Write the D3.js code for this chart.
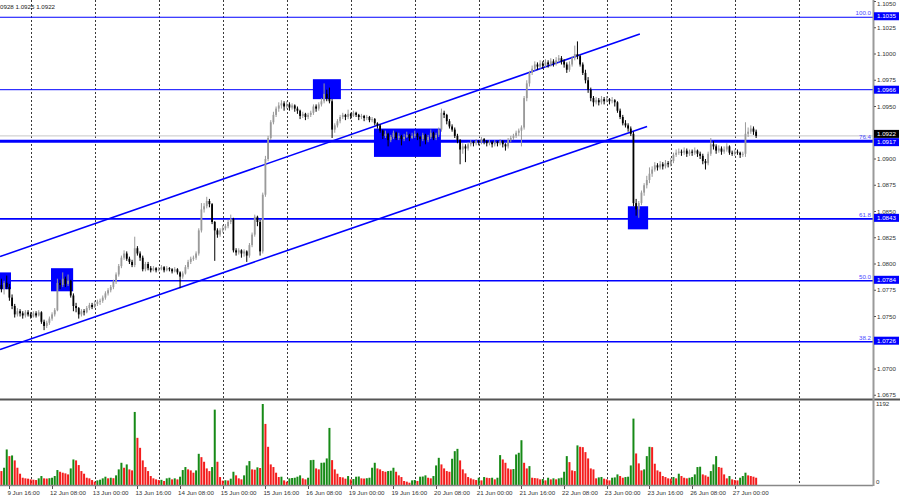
<!DOCTYPE html>
<html><head><meta charset="utf-8">
<script src="https://cdn.jsdelivr.net/npm/d3@7"></script>
<style>body{margin:0;background:#fff}svg{display:block}text{font-family:"Liberation Sans",Arial,sans-serif}</style>
</head><body><svg id="c" width="900" height="500"></svg>
<script>
// ---- data (EURUSD H1, bar index 0 = 9 Jun 16:00) ----
const firstBar = -3;
const opens = [
1.0780,1.0776,1.0782,1.0778,1.0768,1.0760,1.0752,1.0755,1.0753,1.0751,
1.0754,1.0752,1.0750,1.0753,1.0751,1.0754,1.0745,1.0741,1.0744,1.0748,
1.0752,1.0756,1.0782,1.0780,1.0786,1.0781,1.0784,1.0770,1.0760,1.0758,
1.0752,1.0755,1.0754,1.0758,1.0761,1.0759,1.0762,1.0764,1.0765,1.0768,
1.0772,1.0775,1.0778,1.0783,1.0790,1.0798,1.0806,1.0810,1.0805,1.0802,
1.0799,1.0815,1.0810,1.0806,1.0795,1.0800,1.0796,1.0794,1.0796,1.0794,
1.0795,1.0797,1.0794,1.0796,1.0795,1.0793,1.0795,1.0792,1.0788,1.0791,
1.0797,1.0802,1.0805,1.0806,1.0810,1.0832,1.0852,1.0855,1.0860,1.0857,
1.0840,1.0832,1.0828,1.0832,1.0834,1.0836,1.0840,1.0843,1.0813,1.0811,
1.0813,1.0810,1.0812,1.0808,1.0818,1.0828,1.0845,1.0840,1.0812,1.0866,
1.0900,1.0920,1.0935,1.0942,1.0948,1.0951,1.0953,1.0950,1.0952,1.0949,
1.0951,1.0948,1.0946,1.0941,1.0943,1.0940,1.0942,1.0944,1.0950,1.0948,
1.0952,1.0955,1.0962,1.0958,1.0955,1.0928,1.0932,1.0936,1.0940,1.0942,
1.0940,1.0943,1.0941,1.0944,1.0942,1.0940,1.0941,1.0939,1.0940,1.0937,
1.0938,1.0934,1.0932,1.0927,1.0922,1.0924,1.0918,1.0921,1.0925,1.0920,
1.0922,1.0919,1.0921,1.0923,1.0920,1.0922,1.0924,1.0921,1.0919,1.0923,
1.0918,1.0921,1.0925,1.0920,1.0923,1.0928,1.0944,1.0942,1.0936,1.0931,
1.0928,1.0922,1.0918,1.0909,1.0912,1.0910,1.0914,1.0916,1.0915,1.0917,
1.0916,1.0919,1.0917,1.0915,1.0916,1.0914,1.0916,1.0915,1.0917,1.0914,
1.0912,1.0918,1.0920,1.0922,1.0925,1.0927,1.0930,1.0958,1.0972,1.0982,
1.0986,1.0990,1.0988,1.0991,1.0989,1.0992,1.0990,1.0993,1.0991,1.0994,
1.0996,1.0993,1.0990,1.0985,1.0990,1.0996,1.1000,1.0998,1.0990,1.0982,
1.0975,1.0966,1.0958,1.0954,1.0956,1.0954,1.0957,1.0955,1.0957,1.0955,
1.0956,1.0954,1.0946,1.0940,1.0934,1.0932,1.0929,1.0924,1.0858,1.0852,
1.0858,1.0868,1.0875,1.0880,1.0886,1.0890,1.0894,1.0892,1.0895,1.0893,
1.0896,1.0895,1.0898,1.0904,1.0906,1.0907,1.0906,1.0908,1.0905,1.0907,
1.0906,1.0908,1.0905,1.0903,1.0898,1.0896,1.0905,1.0914,1.0912,1.0908,
1.0910,1.0907,1.0909,1.0912,1.0906,1.0905,1.0907,1.0906,1.0904,1.0905,
1.0924,1.0926,1.0929,1.0926];
const highs = [
1.0786,1.0784,1.0789,1.0781,1.0771,1.0762,1.0758,1.0757,1.0755,1.0756,
1.0756,1.0754,1.0755,1.0755,1.0756,1.0755,1.0747,1.0746,1.0750,1.0754,
1.0758,1.0786,1.0785,1.0792,1.0788,1.0790,1.0785,1.0772,1.0763,1.0759,
1.0757,1.0757,1.0760,1.0763,1.0763,1.0765,1.0766,1.0767,1.0770,1.0774,
1.0777,1.0780,1.0785,1.0792,1.0800,1.0808,1.0813,1.0812,1.0807,1.0804,
1.0826,1.0817,1.0812,1.0808,1.0802,1.0802,1.0798,1.0798,1.0797,1.0797,
1.0799,1.0798,1.0798,1.0797,1.0796,1.0797,1.0796,1.0793,1.0793,1.0799,
1.0804,1.0807,1.0808,1.0812,1.0834,1.0858,1.0858,1.0864,1.0862,1.0858,
1.0841,1.0834,1.0834,1.0837,1.0838,1.0842,1.0847,1.0844,1.0815,1.0815,
1.0814,1.0814,1.0813,1.0820,1.0830,1.0847,1.0846,1.0842,1.0868,1.0903,
1.0922,1.0937,1.0945,1.0950,1.0954,1.0956,1.0955,1.0955,1.0954,1.0953,
1.0952,1.0950,1.0947,1.0945,1.0944,1.0944,1.0946,1.0952,1.0952,1.0954,
1.0958,1.0972,1.0966,1.0968,1.0957,1.0934,1.0938,1.0942,1.0944,1.0943,
1.0947,1.0944,1.0946,1.0945,1.0943,1.0943,1.0942,1.0942,1.0941,1.0940,
1.0939,1.0935,1.0933,1.0928,1.0927,1.0925,1.0923,1.0927,1.0926,1.0925,
1.0923,1.0924,1.0926,1.0924,1.0925,1.0927,1.0925,1.0922,1.0925,1.0924,
1.0923,1.0928,1.0926,1.0925,1.0930,1.0948,1.0946,1.0943,1.0938,1.0933,
1.0930,1.0924,1.0919,1.0915,1.0914,1.0916,1.0918,1.0917,1.0919,1.0918,
1.0921,1.0920,1.0918,1.0918,1.0917,1.0918,1.0917,1.0919,1.0918,1.0915,
1.0920,1.0922,1.0924,1.0927,1.0929,1.0932,1.0960,1.0975,1.0984,1.0989,
1.0993,1.0992,1.0994,1.0993,1.0995,1.0994,1.0996,1.0995,1.0997,1.0999,
1.0998,1.0995,1.0992,1.0993,1.0998,1.1008,1.1012,1.0999,1.0992,1.0985,
1.0978,1.0968,1.0960,1.0959,1.0958,1.0960,1.0959,1.0960,1.0958,1.0959,
1.0957,1.0955,1.0948,1.0942,1.0937,1.0934,1.0931,1.0926,1.0862,1.0860,
1.0870,1.0877,1.0884,1.0892,1.0893,1.0897,1.0896,1.0898,1.0897,1.0899,
1.0898,1.0901,1.0906,1.0909,1.0910,1.0909,1.0911,1.0910,1.0909,1.0909,
1.0911,1.0909,1.0907,1.0905,1.0900,1.0907,1.0920,1.0917,1.0914,1.0913,
1.0912,1.0912,1.0915,1.0913,1.0908,1.0909,1.0909,1.0907,1.0907,1.0935,
1.0930,1.0932,1.0931,1.0928];
const lows = [
1.0773,1.0771,1.0776,1.0765,1.0757,1.0749,1.0750,1.0750,1.0748,1.0749,
1.0750,1.0748,1.0749,1.0749,1.0750,1.0743,1.0737,1.0739,1.0742,1.0746,
1.0750,1.0755,1.0776,1.0778,1.0778,1.0779,1.0768,1.0755,1.0754,1.0748,
1.0750,1.0751,1.0753,1.0756,1.0757,1.0758,1.0760,1.0761,1.0763,1.0766,
1.0770,1.0773,1.0776,1.0781,1.0788,1.0796,1.0804,1.0803,1.0800,1.0797,
1.0797,1.0808,1.0803,1.0793,1.0793,1.0794,1.0792,1.0793,1.0792,1.0793,
1.0794,1.0792,1.0793,1.0793,1.0791,1.0792,1.0790,1.0777,1.0786,1.0790,
1.0795,1.0800,1.0803,1.0804,1.0808,1.0830,1.0849,1.0853,1.0854,1.0838,
1.0803,1.0825,1.0826,1.0830,1.0832,1.0834,1.0838,1.0811,1.0808,1.0809,
1.0806,1.0807,1.0802,1.0806,1.0816,1.0826,1.0836,1.0808,1.0810,1.0864,
1.0898,1.0918,1.0933,1.0940,1.0945,1.0948,1.0946,1.0948,1.0946,1.0947,
1.0945,1.0943,1.0938,1.0939,1.0937,1.0938,1.0940,1.0942,1.0945,1.0946,
1.0950,1.0953,1.0955,1.0953,1.0920,1.0925,1.0930,1.0934,1.0938,1.0937,
1.0938,1.0938,1.0940,1.0940,1.0937,1.0938,1.0936,1.0937,1.0935,1.0935,
1.0932,1.0929,1.0925,1.0919,1.0920,1.0912,1.0916,1.0919,1.0918,1.0918,
1.0913,1.0917,1.0920,1.0917,1.0919,1.0920,1.0918,1.0912,1.0917,1.0914,
1.0916,1.0919,1.0918,1.0918,1.0921,1.0926,1.0939,1.0933,1.0929,1.0926,
1.0920,1.0915,1.0895,1.0905,1.0897,1.0908,1.0912,1.0912,1.0913,1.0913,
1.0914,1.0914,1.0912,1.0913,1.0911,1.0912,1.0912,1.0913,1.0911,1.0908,
1.0910,1.0916,1.0918,1.0920,1.0922,1.0912,1.0928,1.0955,1.0969,1.0980,
1.0984,1.0985,1.0986,1.0986,1.0987,1.0987,1.0988,1.0988,1.0989,1.0992,
1.0990,1.0987,1.0982,1.0983,1.0988,1.0994,1.0995,1.0988,1.0980,1.0972,
1.0963,1.0955,1.0950,1.0952,1.0951,1.0952,1.0952,1.0954,1.0952,1.0953,
1.0950,1.0944,1.0938,1.0932,1.0930,1.0926,1.0922,1.0855,1.0846,1.0844,
1.0856,1.0865,1.0872,1.0877,1.0883,1.0888,1.0889,1.0890,1.0890,1.0891,
1.0892,1.0893,1.0896,1.0902,1.0904,1.0903,1.0904,1.0902,1.0903,1.0903,
1.0904,1.0902,1.0900,1.0895,1.0890,1.0894,1.0903,1.0909,1.0905,1.0906,
1.0904,1.0905,1.0907,1.0904,1.0903,1.0903,1.0904,1.0901,1.0902,1.0902,
1.0921,1.0924,1.0923,1.0920];
const closes = [
1.0776,1.0782,1.0778,1.0768,1.0760,1.0752,1.0755,1.0753,1.0751,1.0754,
1.0752,1.0750,1.0753,1.0751,1.0754,1.0745,1.0741,1.0744,1.0748,1.0752,
1.0756,1.0782,1.0780,1.0786,1.0781,1.0784,1.0770,1.0760,1.0758,1.0752,
1.0755,1.0754,1.0758,1.0761,1.0759,1.0762,1.0764,1.0765,1.0768,1.0772,
1.0775,1.0778,1.0783,1.0790,1.0798,1.0806,1.0810,1.0805,1.0802,1.0799,
1.0815,1.0810,1.0806,1.0795,1.0800,1.0796,1.0794,1.0796,1.0794,1.0795,
1.0797,1.0794,1.0796,1.0795,1.0793,1.0795,1.0792,1.0788,1.0791,1.0797,
1.0802,1.0805,1.0806,1.0810,1.0832,1.0852,1.0855,1.0860,1.0857,1.0840,
1.0832,1.0828,1.0832,1.0834,1.0836,1.0840,1.0843,1.0813,1.0811,1.0813,
1.0810,1.0812,1.0808,1.0818,1.0828,1.0845,1.0840,1.0812,1.0866,1.0900,
1.0920,1.0935,1.0942,1.0948,1.0951,1.0953,1.0950,1.0952,1.0949,1.0951,
1.0948,1.0946,1.0941,1.0943,1.0940,1.0942,1.0944,1.0950,1.0948,1.0952,
1.0955,1.0962,1.0958,1.0955,1.0928,1.0932,1.0936,1.0940,1.0942,1.0940,
1.0943,1.0941,1.0944,1.0942,1.0940,1.0941,1.0939,1.0940,1.0937,1.0938,
1.0934,1.0932,1.0927,1.0922,1.0924,1.0918,1.0921,1.0925,1.0920,1.0922,
1.0919,1.0921,1.0923,1.0920,1.0922,1.0924,1.0921,1.0919,1.0923,1.0918,
1.0921,1.0925,1.0920,1.0923,1.0928,1.0944,1.0942,1.0936,1.0931,1.0928,
1.0922,1.0918,1.0909,1.0912,1.0910,1.0914,1.0916,1.0915,1.0917,1.0916,
1.0919,1.0917,1.0915,1.0916,1.0914,1.0916,1.0915,1.0917,1.0914,1.0912,
1.0918,1.0920,1.0922,1.0925,1.0927,1.0930,1.0958,1.0972,1.0982,1.0986,
1.0990,1.0988,1.0991,1.0989,1.0992,1.0990,1.0993,1.0991,1.0994,1.0996,
1.0993,1.0990,1.0985,1.0990,1.0996,1.1000,1.0998,1.0990,1.0982,1.0975,
1.0966,1.0958,1.0954,1.0956,1.0954,1.0957,1.0955,1.0957,1.0955,1.0956,
1.0954,1.0946,1.0940,1.0934,1.0932,1.0929,1.0924,1.0858,1.0852,1.0858,
1.0868,1.0875,1.0880,1.0886,1.0890,1.0894,1.0892,1.0895,1.0893,1.0896,
1.0895,1.0898,1.0904,1.0906,1.0907,1.0906,1.0908,1.0905,1.0907,1.0906,
1.0908,1.0905,1.0903,1.0898,1.0896,1.0905,1.0914,1.0912,1.0908,1.0910,
1.0907,1.0909,1.0912,1.0906,1.0905,1.0907,1.0906,1.0904,1.0905,1.0924,
1.0926,1.0929,1.0926,1.0922];
const volumes = [
205,254,523,425,435,362,254,166,107,98,
93,83,78,73,98,132,98,95,100,107,
132,220,195,181,171,156,244,376,362,293,
205,166,107,98,73,49,68,78,98,122,
98,107,100,142,230,327,254,303,230,215,
1075,694,547,362,264,205,132,98,83,73,
76,59,98,107,83,98,83,122,220,264,
230,215,181,215,459,410,342,244,205,264,
1109,342,117,64,70,66,93,195,142,98,
83,142,288,352,230,225,260,250,1192,899,
562,303,264,181,117,122,68,49,98,103,
107,122,
142,98,83,107,366,370,244,230,327,330,
391,840,366,230,166,117,112,93,132,83,
88,122,125,98,95,100,107,254,327,244,
230,205,195,205,210,254,195,142,117,59,
49,34,68,73,59,122,125,142,107,98,
132,288,400,303,244,205,195,386,498,532,
362,230,171,117,98,83,73,107,68,117,
107,102,107,83,107,440,376,327,244,230,
235,449,474,659,327,244,278,107,102,98,
83,88,68,107,83,98,83,98,107,195,
425,337,215,205,583,562,557,484,391,244,
230,98,112,
118,93,83,68,107,112,156,132,107,117,
122,288,977,464,318,215,230,425,562,557,
313,215,195,132,117,98,93,117,98,166,
132,107,98,107,117,156,264,269,156,142,
122,205,303,425,264,254,156,98,132,83,
73,68,107,132,181,142,132,122,107];
const volMax = 1192;

const fibPrices = [1.1035, 1.0917, 1.0843, 1.0784, 1.0726];
const fibNames  = ["100.0", "76.4", "61.8", "50.0", "38.2"];
const levelPrice = 1.0966;
const lastPrice = 1.0922;
const headerText = "0928 1.0925 1.0922";

// price scale labels (1.0925 and 1.0725 sit under the coloured price boxes and are not visible)
const priceTicks = [1.1050,1.1025,1.1000,1.0975,1.0950,1.0900,1.0875,1.0850,1.0825,1.0800,1.0775,1.0750,1.0700,1.0675];
const timeTickBars = [0,16,32,48,64,80,96,112,128,144,160,176,192,208,224,240,256,272];
const timeTickLabels = ["9 Jun 16:00","12 Jun 08:00","13 Jun 00:00","13 Jun 16:00","14 Jun 08:00","15 Jun 00:00","15 Jun 16:00","16 Jun 08:00","19 Jun 00:00","19 Jun 16:00","20 Jun 08:00","21 Jun 00:00","21 Jun 16:00","22 Jun 08:00","23 Jun 00:00","23 Jun 16:00","26 Jun 08:00","27 Jun 00:00"];
const gridBars = [8,32,56,80,104,128,152,176,200,224,248,272,296];

// rectangles: start bar, end bar, top price, bottom price
const boxStart = [-3.6, 15.6, 113.8, 136.7, 231.9];
const boxEnd   = [0.6, 23.9, 124.3, 161.8, 239.5];
const boxTop   = [1.0792, 1.0796, 1.0976, 1.0929, 1.0855];
const boxBottom= [1.0776, 1.0774, 1.0957, 1.0902, 1.0833];

// channel trend lines: [bar, price]
const channelUpper = [[-3.52, 1.08071], [236.4, 1.10190]];
const channelLower = [[-3.52, 1.07185], [239.1, 1.09310]];

// ---- drawing ----
const svg = d3.select("#c");
const axisX = 873, mainBottom = 398, volTop = 401, volBottom = 485;
const x = d3.scaleLinear().domain([0, 272]).range([9.4, 734.8]);
const y = d3.scaleLinear().domain([1.0675, 1.1050]).range([395.25, 1.5]);
const yv = d3.scaleLinear().domain([0, volMax]).range([volBottom, 404]);
const FS = 6.2;

const defs = svg.append("defs");
defs.append("clipPath").attr("id","cm").append("rect").attr("x",0).attr("y",0).attr("width",axisX).attr("height",mainBottom);
defs.append("clipPath").attr("id","cv").append("rect").attr("x",0).attr("y",volTop).attr("width",axisX).attr("height",volBottom-volTop);

const main = svg.append("g").attr("clip-path","url(#cm)");
const vol = svg.append("g").attr("clip-path","url(#cv)");

// vertical dashed grid
gridBars.forEach(b=>{
  const gx = Math.round(x(b)) + 0.5;
  main.append("line").attr("x1",gx).attr("x2",gx).attr("y1",0).attr("y2",mainBottom)
    .attr("stroke","#3a3a3a").attr("stroke-width",1).attr("stroke-dasharray","2,2");
  vol.append("line").attr("x1",gx).attr("x2",gx).attr("y1",volTop).attr("y2",volBottom)
    .attr("stroke","#3a3a3a").attr("stroke-width",1).attr("stroke-dasharray","2,2");
});

// current price line
main.append("line").attr("x1",0).attr("x2",axisX).attr("y1",y(lastPrice)).attr("y2",y(lastPrice))
  .attr("stroke","#c8c8c8").attr("stroke-width",1);

// boxes
boxStart.forEach((b,i)=>{
  main.append("rect").attr("x",x(b)).attr("width",x(boxEnd[i])-x(b))
    .attr("y",y(boxTop[i])).attr("height",y(boxBottom[i])-y(boxTop[i]))
    .attr("fill","#0000ff");
});

// horizontal levels
const levelWidth = [1, 3, 1.6, 1.6, 1.6];
fibPrices.forEach((p,i)=>{
  main.append("line").attr("x1",0).attr("x2",axisX).attr("y1",y(p)).attr("y2",y(p))
    .attr("stroke","#0000ff").attr("stroke-width",levelWidth[i]);
});
main.append("line").attr("x1",0).attr("x2",axisX).attr("y1",y(levelPrice)).attr("y2",y(levelPrice))
  .attr("stroke","#0000ff").attr("stroke-width",1);

// channel
[channelUpper, channelLower].forEach(ch=>{
  main.append("line").attr("x1",x(ch[0][0])).attr("y1",y(ch[0][1]))
    .attr("x2",x(ch[1][0])).attr("y2",y(ch[1][1]))
    .attr("stroke","#0000ff").attr("stroke-width",1.6);
});

// candles
const bars = closes.map((c,i)=>({b:i+firstBar,o:opens[i],h:highs[i],l:lows[i],c:c,v:volumes[i]}));
const bw = 1.8;
const cg = main.append("g");
bars.forEach(d=>{
  const cx = x(d.b);
  const up = d.c >= d.o;
  const col = up ? "#9a9a9a" : "#000000";
  cg.append("line").attr("x1",cx).attr("x2",cx).attr("y1",y(d.h)).attr("y2",y(d.l))
    .attr("stroke",col).attr("stroke-width",1);
  const top = y(Math.max(d.o,d.c)), bot = y(Math.min(d.o,d.c));
  cg.append("rect").attr("x",cx-bw/2).attr("width",bw).attr("y",top).attr("height",Math.max(1,bot-top))
    .attr("fill",col);
});

// fib labels
fibPrices.forEach((p,i)=>{
  main.append("text").attr("x",871).attr("y",y(p)-2).attr("text-anchor","end")
    .attr("font-size",FS).attr("fill","#4848ff").text(fibNames[i]);
});

// volumes
bars.forEach((d,i)=>{
  const up = i>0 && d.v > bars[i-1].v;
  vol.append("rect").attr("x",x(d.b)-1).attr("width",2)
    .attr("y",yv(d.v)).attr("height",volBottom-yv(d.v))
    .attr("fill", up ? "#168a16" : "#f41c1c");
});

// frame lines
svg.append("line").attr("x1",0).attr("x2",900).attr("y1",399.5).attr("y2",399.5).attr("stroke","#555").attr("stroke-width",2);
svg.append("line").attr("x1",0).attr("x2",axisX).attr("y1",volBottom+0.5).attr("y2",volBottom+0.5).attr("stroke","#888").attr("stroke-width",1.5);
svg.append("line").attr("x1",axisX+0.5).attr("x2",axisX+0.5).attr("y1",0).attr("y2",volBottom+1).attr("stroke","#9a9a9a").attr("stroke-width",2);

// price axis
priceTicks.forEach(p=>{
  const ty = Math.max(y(p), 4);
  svg.append("line").attr("x1",axisX+1).attr("x2",axisX+3).attr("y1",y(p)).attr("y2",y(p)).attr("stroke","#555");
  svg.append("text").attr("x",877).attr("y",ty).attr("dy","0.35em").attr("font-size",FS).attr("fill","#333").text(p.toFixed(4));
});
function priceBox(p, fill, dy){
  const yy = y(p) + (dy||0);
  svg.append("rect").attr("x",axisX+1).attr("width",25).attr("y",yy-4).attr("height",8).attr("fill",fill);
  svg.append("text").attr("x",877).attr("y",yy).attr("dy","0.35em").attr("font-size",FS).attr("fill","#fff").text(p.toFixed(4));
}
priceBox(lastPrice, "#000000", -2);
priceBox(levelPrice, "#0000ff", 0);
fibPrices.forEach((p,i)=>priceBox(p, "#0000ff", i===1 ? 1 : -1));

// volume axis
svg.append("text").attr("x",876).attr("y",yv(volMax)).attr("dy","0.35em").attr("font-size",FS).attr("fill","#333").text(String(volMax));
svg.append("text").attr("x",876).attr("y",yv(0)-3).attr("dy","0.35em").attr("font-size",FS).attr("fill","#333").text("0");

// time axis
timeTickBars.forEach((b,i)=>{
  const tx = Math.round(x(b)) + 0.5;
  svg.append("line").attr("x1",tx).attr("x2",tx).attr("y1",volBottom+1).attr("y2",volBottom+4).attr("stroke","#555");
  svg.append("text").attr("x",x(b)-2).attr("y",495).attr("font-size",FS).attr("fill","#333").text(timeTickLabels[i]);
});

// header
svg.append("text").attr("x",0).attr("y",9).attr("font-size",FS).attr("fill","#222").text(headerText);
</script>
</body></html>
